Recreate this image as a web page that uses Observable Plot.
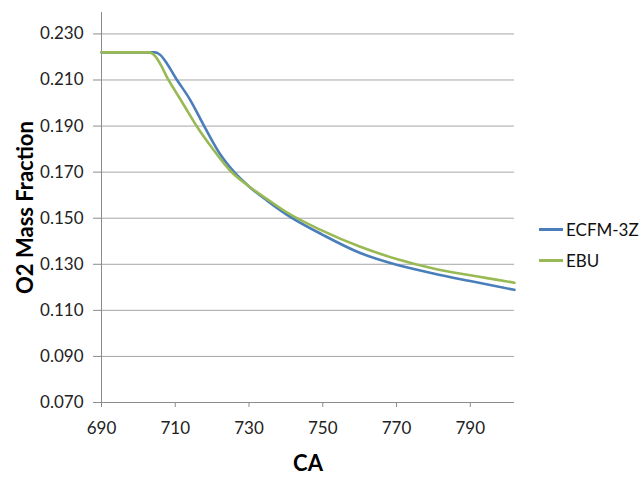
<!DOCTYPE html>
<html>
<head>
<meta charset="utf-8">
<script src="https://cdn.jsdelivr.net/npm/d3@7"></script>
<script src="https://cdn.jsdelivr.net/npm/@observablehq/plot@0.6"></script>
<style>
  html, body { margin: 0; padding: 0; background: #fff; }
  #wrap { position: relative; width: 640px; height: 480px; overflow: hidden; font-family: Lato, "Open Sans", sans-serif; background: #fff; }
  #wrap svg { position: absolute; left: 0; top: 0; z-index: 0; }
  #wrap svg g[aria-label="x-axis label"] text,
  #wrap svg g[aria-label="y-axis label"] text { font-weight: bold; font-size: 22px; fill: #000; }
  .legend { position: absolute; z-index: 2; left: 539px; font-size: 17px; color: #111; display: flex; align-items: center; white-space: nowrap; }
  .legend span.sw { display: inline-block; width: 24px; height: 3px; margin-right: 3px; }
</style>
</head>
<body>
<div id="wrap">
  <div class="legend" style="top:219px"><span class="sw" style="background:#4a7ebb"></span>ECFM-3Z</div>
  <div class="legend" style="top:250px"><span class="sw" style="background:#98b954"></span>EBU</div>
</div>
<script>
const seriesNames = ["ECFM-3Z", "EBU"];
const seriesColors = ["#4a7ebb", "#98b954"];

const caECFM = [690, 700, 704.5, 706, 708, 710, 714, 718, 722, 726, 730, 735, 740, 750, 760, 770, 780, 790, 802];
const o2ECFM = [0.222, 0.222, 0.222, 0.2208, 0.2165, 0.2112, 0.2015, 0.1895, 0.1782, 0.1700, 0.1638, 0.1575, 0.1518, 0.1428, 0.1350, 0.1298, 0.1260, 0.1227, 0.1189];

const caEBU = [690, 700, 703, 704.5, 706, 708, 710, 712, 716, 720, 725, 730, 735, 740, 750, 760, 770, 780, 790, 802];
const o2EBU = [0.222, 0.222, 0.222, 0.2205, 0.2168, 0.2105, 0.2052, 0.2000, 0.1895, 0.1805, 0.1705, 0.1638, 0.1582, 0.1528, 0.1445, 0.1377, 0.1323, 0.1282, 0.1252, 0.1220];

const xTicks = [690, 710, 730, 750, 770, 790];
const yTicks = [0.07, 0.09, 0.11, 0.13, 0.15, 0.17, 0.19, 0.21, 0.23];

const data = [
  ...caECFM.map((ca, i) => ({ ca, o2: o2ECFM[i], series: seriesNames[0] })),
  ...caEBU.map((ca, i) => ({ ca, o2: o2EBU[i], series: seriesNames[1] }))
];

const chart = Plot.plot({
  width: 640,
  height: 480,
  marginLeft: 101,
  marginRight: 126,
  marginTop: 12,
  marginBottom: 78,
  style: { fontFamily: "Lato, 'Open Sans', sans-serif", fontSize: "17px", color: "#222", background: "#fff" },
  x: { domain: [690, 802] },
  y: { domain: [0.07, 0.2393] },
  color: { domain: seriesNames, range: seriesColors },
  marks: [
    Plot.gridY(yTicks, { stroke: "#a6a6a6", strokeOpacity: 1, strokeWidth: 1 }),
    Plot.ruleX([690], { stroke: "#8c8c8c", strokeWidth: 1 }),
    Plot.ruleY([0.07], { stroke: "#8c8c8c", strokeWidth: 1 }),
    Plot.axisY({ ticks: yTicks, tickFormat: d3.format(".3f"), tickSize: 8, tickPadding: 10, stroke: "#8c8c8c",
                 label: "O2 Mass Fraction", labelAnchor: "center", labelArrow: "none", labelOffset: 84 }),
    Plot.axisX({ ticks: xTicks, tickFormat: d => String(d), tickSize: 5, tickPadding: 14, stroke: "#8c8c8c",
                 label: "CA", labelAnchor: "center", labelArrow: "none", labelOffset: 68 }),
    Plot.line(data, { x: "ca", y: "o2", z: "series", stroke: "series", strokeWidth: 2.6, curve: "monotone-x" })
  ]
});
document.getElementById("wrap").insertBefore(chart, document.getElementById("wrap").firstChild);
</script>
</body>
</html>
